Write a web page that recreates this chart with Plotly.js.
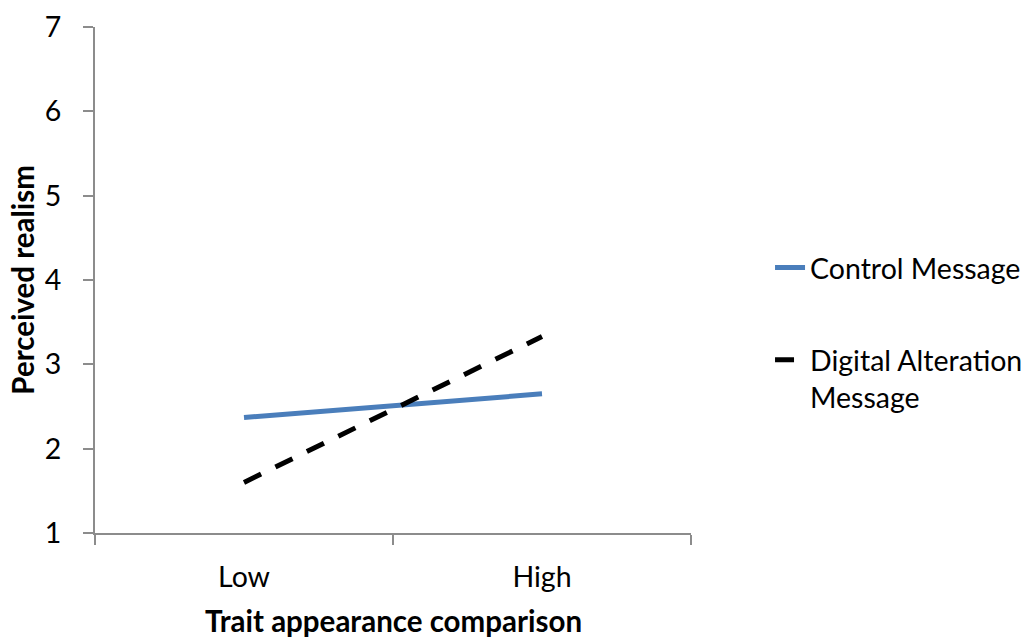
<!DOCTYPE html>
<html>
<head>
<meta charset="utf-8">
<script src="https://cdn.plot.ly/plotly-3.0.1.min.js"></script>
<style>html,body{margin:0;padding:0;background:#fff;}#chart{width:1033px;height:637px;}</style>
</head>
<body>
<div id="chart"></div>
<script>
const categories = ["Low", "High"];
const controlValues = [2.37, 2.65];
const digitalValues = [1.60, 3.33];
const seriesNames = ["Control Message", "Digital Alteration<br>Message"];
const yTicks = [1, 2, 3, 4, 5, 6, 7];

const FONT = "Lato, 'Liberation Sans', sans-serif";

const traces = [
  {
    x: categories, y: controlValues, name: seriesNames[0], type: "scatter", mode: "lines",
    line: {color: "#4a7ebb", width: 5}, legendgroup: "a"
  },
  {
    x: categories, y: digitalValues, name: seriesNames[1], type: "scatter", mode: "lines",
    line: {color: "#000000", width: 5, dash: "19px,16px"}, legendgroup: "b"
  }
];

const layout = {
  width: 1033, height: 637,
  margin: {l: 95, r: 342, t: 27, b: 104, autoexpand: false},
  paper_bgcolor: "#fff", plot_bgcolor: "#fff",
  font: {family: FONT, size: 28.5, color: "#000"},
  showlegend: true,
  legend: {
    x: 1.1326, xanchor: "left", y: 0.574, yanchor: "top",
    font: {family: FONT, size: 28.5, color: "#000"},
    traceorder: "grouped", tracegroupgap: 52, valign: "top",
    bgcolor: "rgba(0,0,0,0)"
  },
  xaxis: {
    type: "category", range: [-0.5, 1.5],
    showline: true, linecolor: "#8c8c8c", linewidth: 2,
    showgrid: false, zeroline: false,
    ticks: "outside", tickson: "boundaries", ticklen: 10, tickcolor: "#8c8c8c", tickwidth: 2,
    tickfont: {family: FONT, size: 28.5}, ticklabelstandoff: 18,
    fixedrange: true
  },
  yaxis: {
    range: [1, 7], tickvals: yTicks,
    showline: true, linecolor: "#8c8c8c", linewidth: 2,
    showgrid: false, zeroline: false,
    ticks: "outside", ticklen: 10, tickcolor: "#8c8c8c", tickwidth: 2,
    tickfont: {family: FONT, size: 28.5}, ticklabelstandoff: 16,
    fixedrange: true
  },
  annotations: [
    {text: "<b>Trait appearance comparison</b>", xref: "paper", yref: "paper",
     x: 0.5, y: -0.173, xanchor: "center", yanchor: "middle", showarrow: false,
     font: {family: FONT, size: 29.5}},
    {text: "<b>Perceived realism</b>", xref: "paper", yref: "paper",
     x: -0.123, y: 0.5, xanchor: "center", yanchor: "middle", showarrow: false, textangle: -90,
     font: {family: FONT, size: 29.5}}
  ]
};

Plotly.newPlot("chart", traces, layout, {displayModeBar: false, staticPlot: true});
</script>
</body>
</html>
